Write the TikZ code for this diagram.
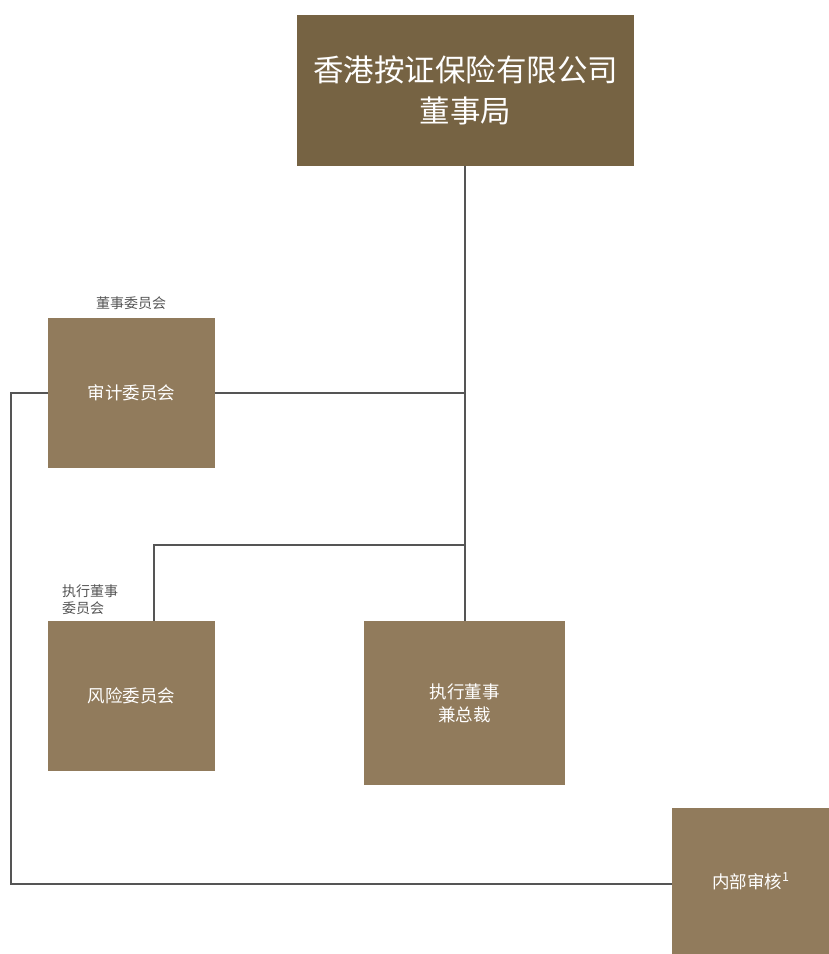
\documentclass[tikz,border=0pt]{standalone}
\usepackage{fontspec}
\setmainfont{Noto Sans CJK SC}
\definecolor{topbox}{HTML}{766343}
\definecolor{subbox}{HTML}{917B5C}
\definecolor{linec}{HTML}{555555}
\definecolor{lblc}{HTML}{555555}
\begin{document}
\begin{tikzpicture}[x=1pt,y=-1pt,
  box/.style={fill=subbox,draw=none,text=white,font=\fontsize{17.5}{23}\selectfont,align=center,inner sep=0pt},
  conn/.style={draw=linec,line width=1.3pt},
  lbl/.style={text=lblc,font=\fontsize{14}{17}\selectfont,inner sep=0pt}]
\useasboundingbox (0,0) rectangle (829,954);
\node[box,fill=topbox,minimum width=337pt,minimum height=151pt,font=\fontsize{30.5}{41}\selectfont] (board) at (465.5,90.5) {香港按证保险有限公司\\董事局};
\node[box,minimum width=167pt,minimum height=150pt] (audit) at (131.5,393) {审计委员会};
\node[box,minimum width=167pt,minimum height=150pt] (risk) at (131.5,696) {风险委员会};
\node[box,minimum width=201pt,minimum height=164pt] (ceo) at (464.5,703) {执行董事\\兼总裁};
\node[box,minimum width=157pt,minimum height=146pt] (ia) at (750.5,881) {内部审核\raisebox{0.4em}{\fontsize{12.5}{12.5}\selectfont 1}};
\node[lbl] (l1) at (131,303) {董事委员会};
\node[lbl,align=left,anchor=west] (l2) at (62,599.5) {执行董事\\委员会};
\coordinate (j0) at (465,166);
\coordinate (j1) at (465,393);
\coordinate (j2) at (465,545);
\coordinate (j3) at (465,621);
\coordinate (r1) at (154,545);
\coordinate (a1) at (11,393);
\coordinate (a2) at (11,884);
\draw[conn] (j0) -- (j3);
\draw[conn] (audit.east) -- (j1);
\draw[conn] (j2) -- (r1) -- (risk.north -| r1);
\draw[conn] (audit.west) -- (a1) -- (a2) -- (ia.west |- a2);
\end{tikzpicture}
\end{document}
